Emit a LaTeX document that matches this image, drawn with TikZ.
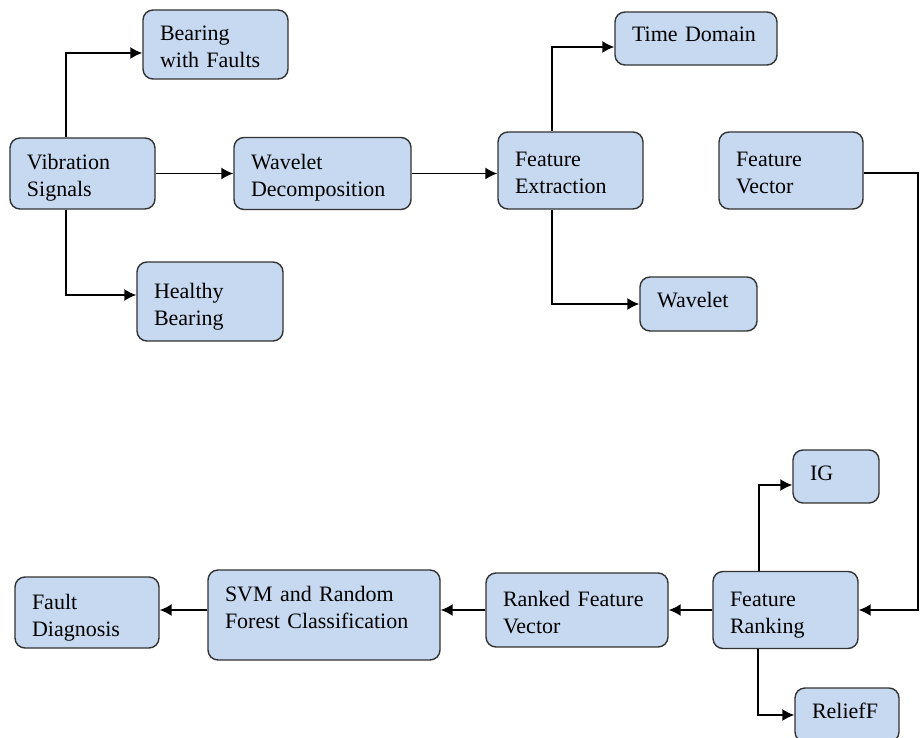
\documentclass[tikz,border=0pt]{standalone}
\usepackage{fontspec}
\setmainfont{Liberation Serif}
\usetikzlibrary{arrows.meta}
\definecolor{boxblue}{HTML}{C6D9F0}
\tikzset{
	blk/.style 2 args={draw=black!80,fill=boxblue,rounded corners=10pt,line width=1.4pt,
		align=left,inner xsep=17pt,inner ysep=0pt,text width=#1,minimum height=#2,
		font=\fontsize{22}{27}\selectfont},
	twoline/.style={text height=25pt,text depth=32pt},
	oneline/.style={text height=15pt,text depth=8pt},
	lnk/.style={line width=1.6pt,-{Latex[length=12pt,width=12pt]}}
}
\begin{document}
\begin{tikzpicture}[x=1pt,y=-1pt]
	\useasboundingbox (0,0) rectangle (920,738);
	% top row
	\node[blk={111pt}{71pt},twoline] (vib) at (82.5,173.5) {Vibration\\Signals};
	\node[blk={111pt}{69pt},twoline] (bwf) at (215.5,44.5) {Bearing\\with Faults};
	\node[blk={112pt}{79pt},twoline] (hb) at (210,301.5) {Healthy\\Bearing};
	\node[blk={143pt}{72pt},twoline] (wd) at (322.5,173.5) {Wavelet\\Decomposition};
	\node[blk={111pt}{77pt},twoline] (fe) at (570.5,170.5) {Feature\\Extraction};
	\node[blk={128pt}{53pt},oneline] (td) at (696,38.5) {Time Domain};
	\node[blk={83pt}{54pt},oneline] (wv) at (698.5,304) {Wavelet};
	\node[blk={110pt}{77pt},twoline] (fv) at (791,170.5) {Feature\\Vector};
	% bottom row
	\node[blk={111pt}{77pt},twoline] (fr) at (785.5,610) {Feature\\Ranking};
	\node[blk={52pt}{53pt},oneline] (ig) at (836,476.5) {IG};
	\node[blk={70pt}{54pt},oneline] (rf) at (847,715) {ReliefF};
	\node[blk={148pt}{74pt},twoline] (rfv) at (577,610) {Ranked Feature\\Vector};
	\node[blk={198pt}{90pt},text height=15pt,text depth=42pt] (svm) at (324,615) {SVM and Random\\Forest Classification};
	\node[blk={110pt}{71pt},twoline] (fd) at (87,612.5) {Fault\\Diagnosis};
	\coordinate (turn) at (918,610);
	% links
	\draw[lnk] ([xshift=-16.5pt]vib.north) |- ([yshift=-8.5pt]bwf.west);
	\draw[lnk] ([xshift=-16.5pt]vib.south) |- ([yshift=6.5pt]hb.west);
	\draw[lnk] (vib.east) -- (wd.west);
	\draw[lnk] (wd.east) -- (wd.east -| fe.west);
	\draw[lnk] ([xshift=-18.5pt]fe.north) |- ([yshift=-8.5pt]td.west);
	\draw[lnk] ([xshift=-18.5pt]fe.south) |- (wv.west);
	\draw[lnk] ([yshift=-2.5pt]fv.east) -| (turn) -- (fr.east);
	\draw[lnk] ([xshift=-26.5pt]fr.north) |- ([yshift=-8.5pt]ig.west);
	\draw[lnk] ([xshift=-27.5pt]fr.south) |- (rf.west);
	\draw[lnk] (fr.west) -- (rfv.east);
	\draw[lnk] (rfv.west) -- (rfv.west -| svm.east);
	\draw[lnk] (svm.west |- rfv.west) -- (rfv.west -| fd.east);
\end{tikzpicture}
\end{document}
